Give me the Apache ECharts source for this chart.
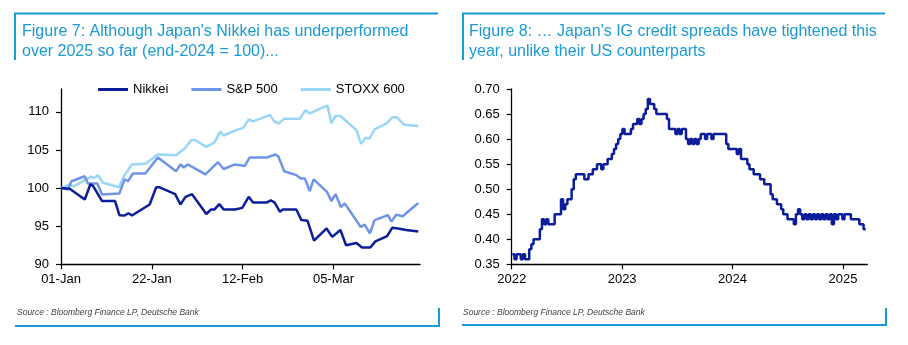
<!DOCTYPE html>
<html lang="en">
<head>
<meta charset="utf-8">
<title>Nikkei vs IG spreads</title>
<script src="https://cdn.jsdelivr.net/npm/echarts@6/dist/echarts.min.js"></script>
<style>
  html, body { margin: 0; padding: 0; background: #fff; }
  #chart { width: 908px; height: 345px; }
</style>
</head>
<body>
<div id="chart"></div>
<script>
// equity indices, rebased end-2024 = 100; x = days since 01-Jan
var dateLabels = ['01-Jan', '22-Jan', '12-Feb', '05-Mar'];
var dayTicks = [0, 21, 42, 63];
var indexTicks = [90, 95, 100, 105, 110];
var nikkei = [
  [0, 100], [2, 99.9], [5.5, 98.5], [6.8, 100.5], [7.4, 100.3], [9.5, 98.3], [12.5, 98.3],
  [13.5, 96.45], [14.7, 96.4], [15.6, 96.7], [16.4, 96.4], [20.5, 97.85], [22, 100.1],
  [22.8, 100.1], [26.4, 99.2], [27.6, 97.85], [28.8, 98.85], [30.3, 99.2], [33.6, 96.6],
  [34.7, 97.2], [35.5, 97.2], [36.6, 97.9], [37.6, 97.2], [40.2, 97.2], [41.9, 97.4],
  [43.4, 98.85], [44.4, 98.1], [47.5, 98.1], [48.5, 98.4], [49.4, 98.1], [50.6, 96.9],
  [51.3, 97.2], [54.4, 97.2], [55.6, 95.8], [57, 95.7], [58.5, 93.1], [61.4, 94.7],
  [62.7, 93.6], [64.6, 94.5], [65.9, 92.5], [68.3, 92.8], [69.6, 92.2], [71.5, 92.2],
  [72.7, 93.0], [75.4, 93.7], [76.6, 94.8], [77.9, 94.7], [79.8, 94.5], [82.6, 94.3]
];
var sp500 = [
  [0, 100], [1.6, 99.8], [2.4, 100.9], [5.5, 101.55], [6.2, 100.6], [8.4, 100.6],
  [9.5, 99.15], [13.5, 99.3], [14.7, 101.15], [15.5, 100.9], [16.6, 101.9], [19.5, 101.9],
  [22.4, 104], [26.6, 102.2], [27.6, 103.1], [28.4, 102.7], [29.3, 103.1], [33.4, 101.8],
  [36.3, 103.4], [37.6, 102.5], [40.2, 103.1], [41.5, 103.0], [42.5, 102.9], [43.6, 104],
  [47.5, 104], [49.6, 104.4], [50.3, 104.1], [51.6, 102.2], [54.4, 101.7], [55.4, 101.25],
  [56.4, 101.25], [57.5, 99.6], [58.4, 101.15], [61.5, 99.5], [62.5, 98.3], [63.5, 99.2],
  [64.7, 97.5], [65.6, 98], [69.3, 94.9], [70.2, 95.2], [71.4, 94.05], [72.5, 95.8],
  [75.6, 96.45], [76.4, 95.6], [77.5, 96.5], [79, 96.3], [82.6, 98.05]
];
var stoxx600 = [
  [0, 100], [2, 100.5], [2.8, 100.2], [7, 101.5], [7.6, 101.3], [8.5, 101.7], [9.7, 100.7],
  [13.4, 100.1], [14.7, 101.7], [16.4, 103.1], [19.5, 103.2], [22.4, 104.4], [26.6, 104.3],
  [28.6, 105.2], [30.1, 106.3], [31, 106.3], [33.6, 105.4], [35.5, 106], [36.8, 107.4],
  [37.6, 106.9], [40.5, 107.6], [42.1, 107.9], [43.4, 109], [44.4, 108.75], [48.3, 109.6],
  [49.3, 108.75], [50.3, 108.45], [51.6, 109.1], [55.2, 109.1], [56.5, 110.2], [57.5, 109.8],
  [61.6, 110.85], [62.5, 108.5], [63.4, 109.45], [64.6, 109.45], [68.3, 107.6], [69.4, 105.8],
  [70.4, 106.6], [71.3, 106.5], [72.5, 107.7], [75.2, 108.45], [76.7, 109.3], [77.6, 109.3],
  [79.4, 108.3], [82.6, 108.15]
];

// Japan IG credit spread (%), one reading per week from spreadStart
var yearTicks = [2022, 2023, 2024, 2025];
var spreadTicks = [0.35, 0.40, 0.45, 0.50, 0.55, 0.60, 0.65, 0.70];
var spreadStart = '2022-01-03';
var spreadWeekly = [
  0.37, 0.36, 0.37, 0.37, 0.36, 0.37, 0.36, 0.36, 0.38, 0.39,
  0.40, 0.40, 0.40, 0.42, 0.44, 0.43, 0.44, 0.43, 0.43, 0.43,
  0.45, 0.45, 0.45, 0.48, 0.46, 0.47, 0.48, 0.48, 0.50, 0.52,
  0.53, 0.53, 0.53, 0.53, 0.52, 0.52, 0.53, 0.53, 0.54, 0.54,
  0.55, 0.55, 0.54, 0.55, 0.55, 0.56, 0.56, 0.57, 0.58, 0.59,
  0.60, 0.61, 0.62, 0.61, 0.61, 0.61, 0.62, 0.63, 0.63, 0.64,
  0.63, 0.64, 0.65, 0.66, 0.68, 0.67, 0.67, 0.66, 0.65, 0.65,
  0.65, 0.65, 0.65, 0.64, 0.62, 0.62, 0.62, 0.61, 0.62, 0.61,
  0.62, 0.62, 0.60, 0.59, 0.60, 0.59, 0.60, 0.59, 0.60, 0.61,
  0.61, 0.60, 0.61, 0.61, 0.60, 0.61, 0.61, 0.61, 0.61, 0.61,
  0.61, 0.59, 0.58, 0.58, 0.58, 0.58, 0.57, 0.58, 0.56, 0.56,
  0.56, 0.55, 0.54, 0.54, 0.53, 0.53, 0.53, 0.52, 0.52, 0.51,
  0.51, 0.51, 0.49, 0.48, 0.48, 0.47, 0.47, 0.46, 0.45, 0.45,
  0.44, 0.44, 0.44, 0.43, 0.45, 0.46, 0.45, 0.44, 0.45, 0.44,
  0.45, 0.44, 0.45, 0.44, 0.45, 0.44, 0.45, 0.44, 0.45, 0.44,
  0.45, 0.43, 0.45, 0.44, 0.45, 0.45, 0.44, 0.45, 0.45, 0.45,
  0.44, 0.44, 0.44, 0.44, 0.43, 0.43, 0.42, 0.42
];

var BLUE = '#1a9ad6';
var NAVY = '#0b1d9b';
var FONT = 'Liberation Sans, Arial, sans-serif';

// date -> fractional year, so the spread axis can tick on 1 Jan
function toYear(ms) {
  var y = new Date(ms).getUTCFullYear();
  var a = Date.UTC(y, 0, 1), b = Date.UTC(y + 1, 0, 1);
  return y + (ms - a) / (b - a);
}
var spreadData = [];
var t0 = Date.parse(spreadStart + 'T00:00:00Z');
for (var i = 0; i < spreadWeekly.length; i++) {
  spreadData.push([toYear(t0 + i * 7 * 86400000), spreadWeekly[i]]);
}

// plain black axis with ticks only at the given values
function axis(grid, min, max, ticks, fmt) {
  return {
    type: 'value', gridIndex: grid, min: min, max: max,
    axisLine: { show: true, lineStyle: { color: '#000', width: 1.3 } },
    axisTick: { show: true, length: 5, customValues: ticks,
                lineStyle: { color: '#000', width: 1.2 } },
    splitLine: { show: false },
    axisLabel: { color: '#000', fontSize: 13, fontFamily: FONT, margin: 10,
                 customValues: ticks, formatter: fmt }
  };
}

var chart = echarts.init(document.getElementById('chart'), null, { renderer: 'canvas' });

var xLeft = axis(0, 0, 83, dayTicks, function (v) { return dateLabels[dayTicks.indexOf(v)]; });
var yLeft = axis(0, 90, 113, indexTicks, function (v) { return String(v); });
var xRight = axis(1, 2022, 2025.22, yearTicks, function (v) { return String(v); });
var yRight = axis(1, 0.35, 0.70, spreadTicks, function (v) { return v.toFixed(2); });
yLeft.axisLabel.margin = 12;
yRight.axisLabel.margin = 12;
xLeft.axisLabel.margin = 9;
xRight.axisLabel.margin = 9;

function panelText(x, text) {
  return {
    type: 'text', left: x, top: 22,
    style: { text: text, fill: BLUE, font: '16px ' + FONT, lineHeight: 20 }
  };
}
function sourceText(x) {
  return {
    type: 'text', left: x, top: 308,
    style: { text: 'Source : Bloomberg Finance LP, Deutsche Bank', fill: '#444',
             font: 'italic 8.5px ' + FONT }
  };
}
function frameLine(points) {
  return {
    type: 'polyline', silent: true,
    shape: { points: points },
    style: { stroke: BLUE, lineWidth: 2, fill: null }
  };
}

chart.setOption({
  animation: false,
  textStyle: { fontFamily: FONT },
  grid: [
    { left: 61, top: 89, width: 359, height: 175.3 },
    { left: 511.7, top: 89, width: 355.6, height: 175.3 }
  ],
  legend: {
    data: ['Nikkei', 'S&P 500', 'STOXX 600'],
    left: 93, top: 78,
    icon: 'rect', itemWidth: 30, itemHeight: 3, itemGap: 23,
    textStyle: { color: '#000', fontSize: 13, fontFamily: FONT }
  },
  xAxis: [xLeft, xRight],
  yAxis: [yLeft, yRight],
  series: [
    { name: 'STOXX 600', type: 'line', xAxisIndex: 0, yAxisIndex: 0, data: stoxx600,
      symbol: 'none', color: '#9ad6f8', lineStyle: { width: 2.5 } },
    { name: 'S&P 500', type: 'line', xAxisIndex: 0, yAxisIndex: 0, data: sp500,
      symbol: 'none', color: '#6f95ea', lineStyle: { width: 2.5 } },
    { name: 'Nikkei', type: 'line', xAxisIndex: 0, yAxisIndex: 0, data: nikkei,
      symbol: 'none', color: NAVY, lineStyle: { width: 2.5 } },
    { name: 'Spread', type: 'line', xAxisIndex: 1, yAxisIndex: 1, data: spreadData,
      step: 'end', symbol: 'none', color: NAVY, lineStyle: { width: 2.5 } }
  ],
  graphic: [
    frameLine([[15, 60], [15, 13.5], [438, 13.5]]),
    frameLine([[15, 326], [439, 326], [439, 308]]),
    frameLine([[463, 60], [463, 13.5], [885, 13.5]]),
    frameLine([[462, 325], [886, 325], [886, 308]]),
    panelText(22, 'Figure 7: Although Japan\'s Nikkei has underperformed\nover 2025 so far (end-2024 = 100)...'),
    panelText(469, 'Figure 8: \u2026 Japan\'s IG credit spreads have tightened this\nyear, unlike their US counterparts'),
    sourceText(17),
    sourceText(463)
  ]
});
</script>
</body>
</html>
